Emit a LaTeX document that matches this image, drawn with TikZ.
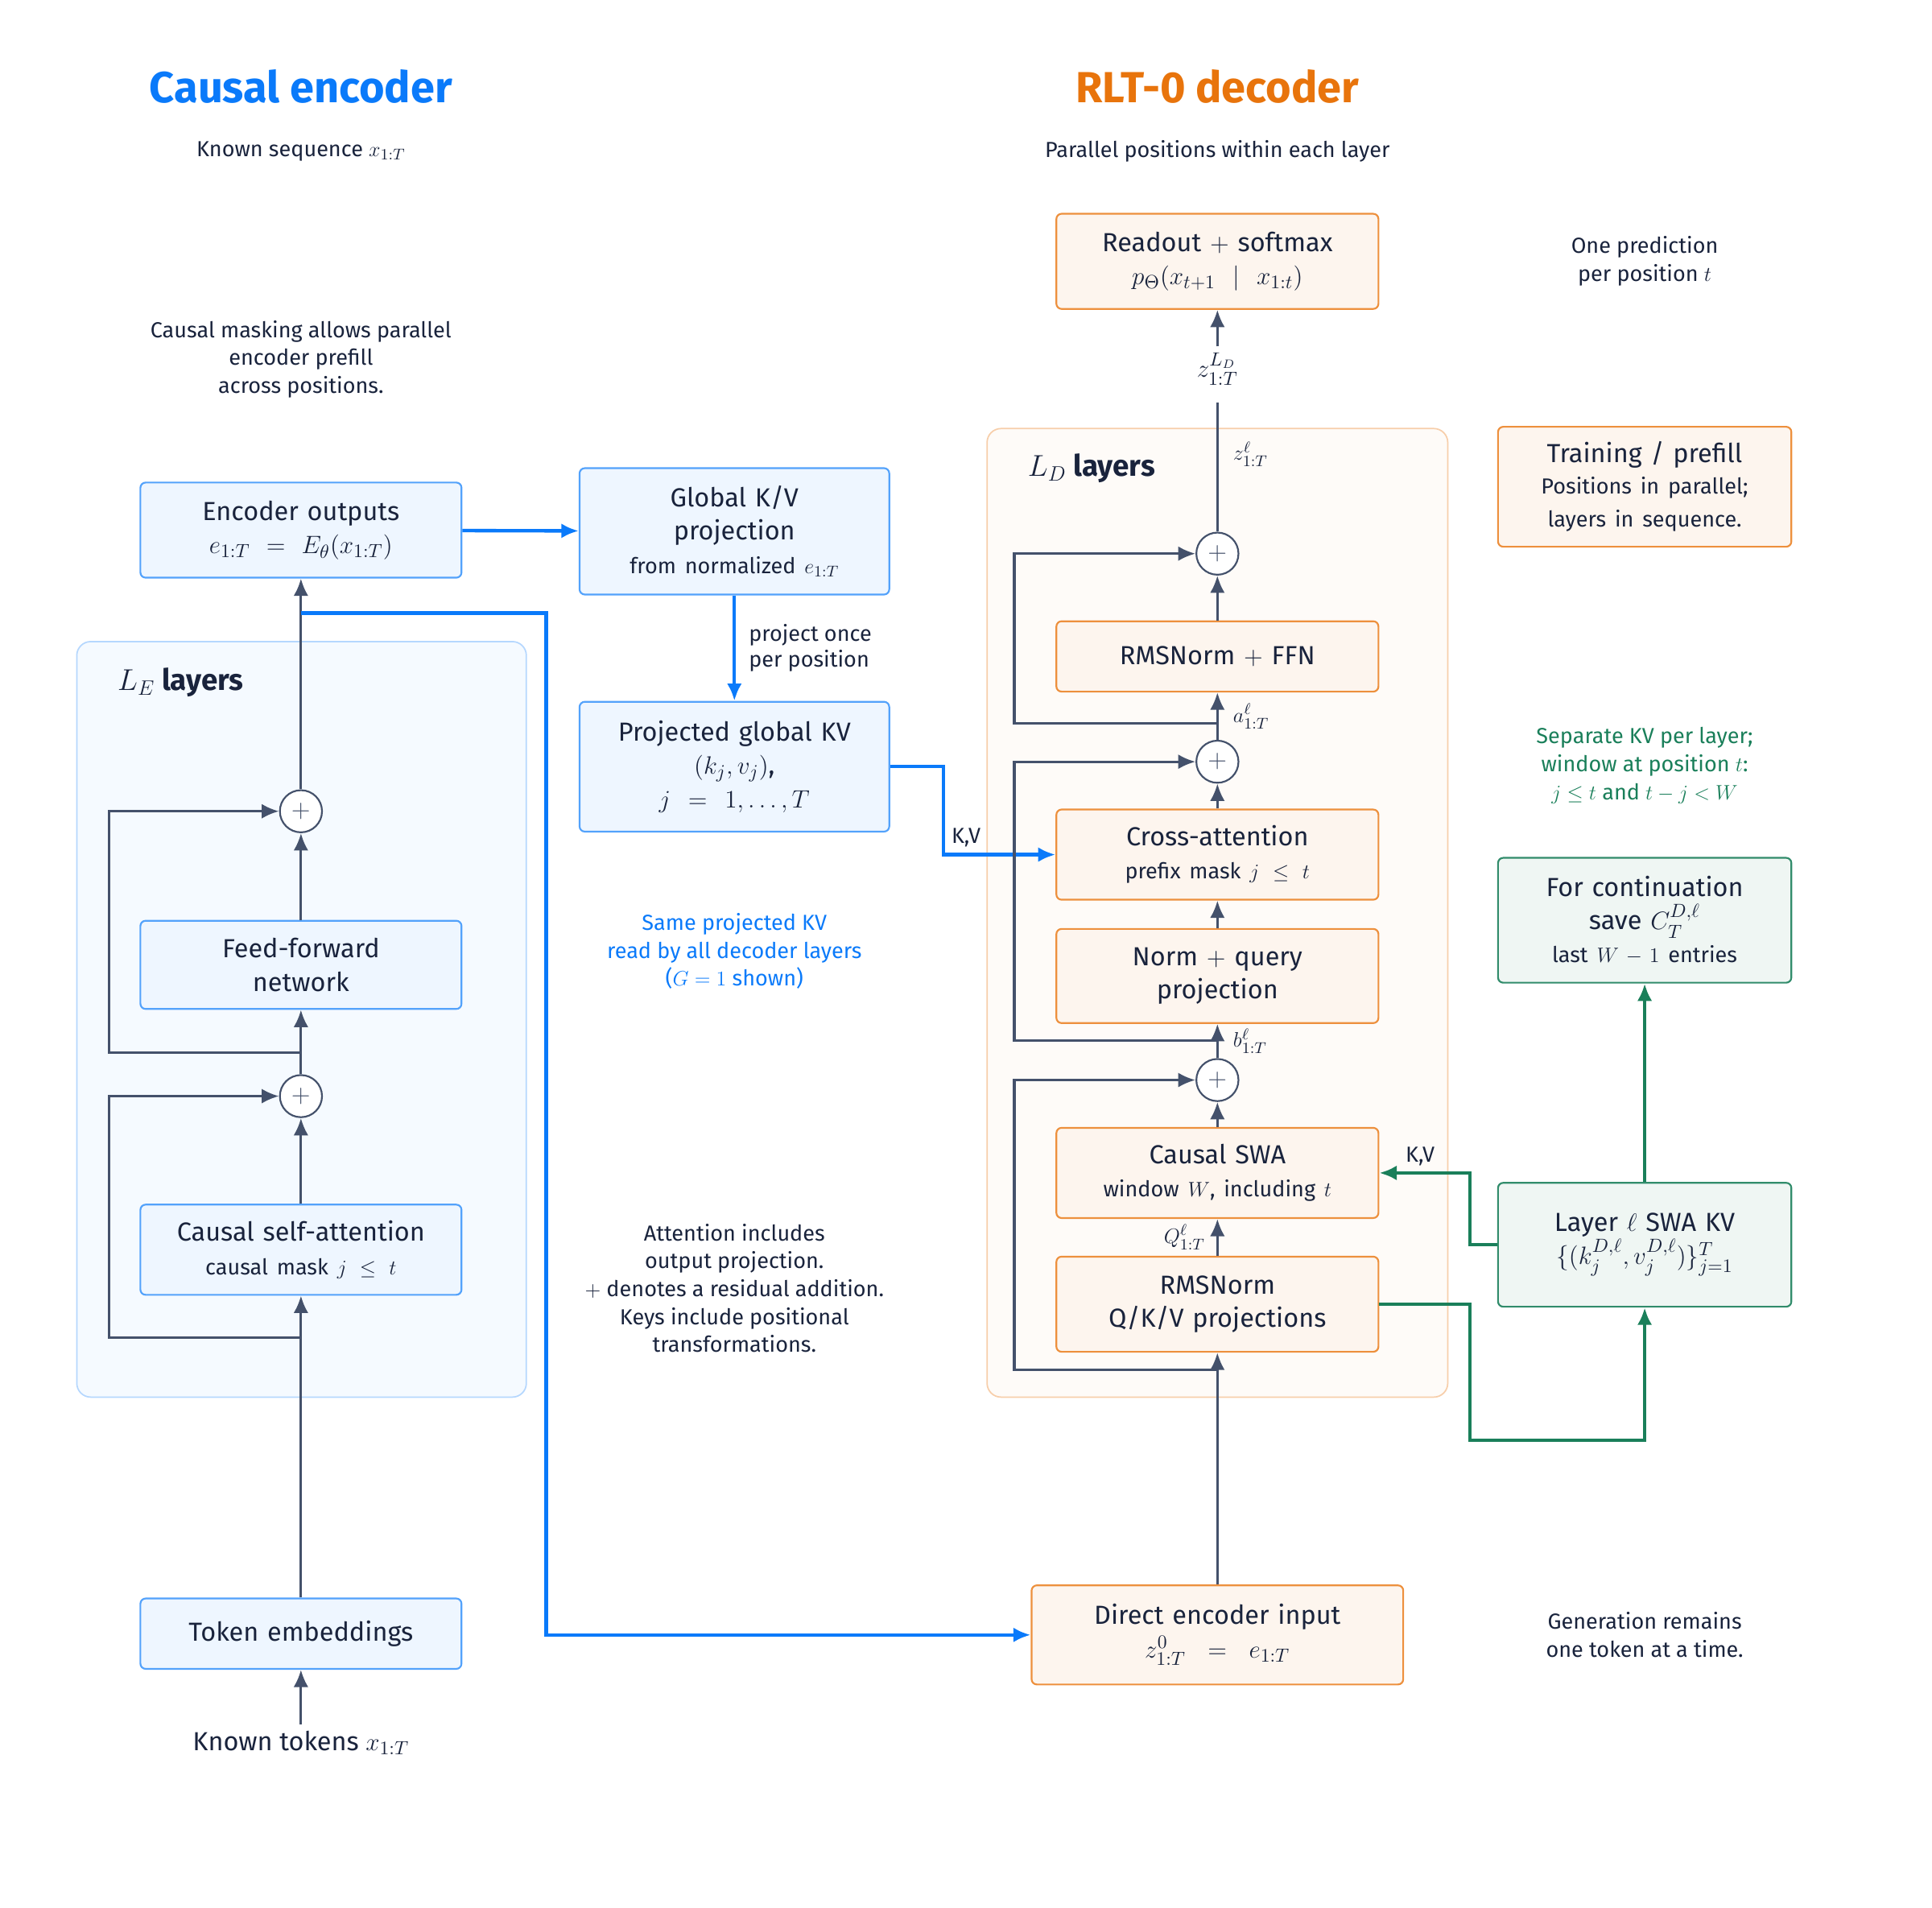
\documentclass[tikz,border=0pt]{standalone}
\usepackage{fontspec}
\setmainfont{Fira Sans}
\usepackage{amsmath}
\usetikzlibrary{arrows.meta,positioning}
\definecolor{encblue}{RGB}{10,122,250}
\definecolor{decorange}{RGB}{232,116,12}
\definecolor{kvgreen}{RGB}{26,127,90}
\definecolor{ink}{RGB}{68,81,107}
\definecolor{txt}{RGB}{25,35,60}
\tikzstyle{encbox} = [rectangle, draw=encblue!70, fill=encblue!7, rounded corners=3pt,
    line width=1pt, text=txt, align=center, font=\fontsize{15}{19}\selectfont, inner sep=0pt]
\tikzstyle{decbox} = [encbox, draw=decorange!80, fill=decorange!7]
\tikzstyle{kvbox} = [encbox, draw=kvgreen!90, fill=kvgreen!7]
\tikzstyle{panel} = [rectangle, rounded corners=8pt, line width=0.8pt]
\tikzstyle{plus} = [circle, draw=ink, fill=white, line width=1pt, minimum size=0.85cm, inner sep=0pt, font=\Large, text=ink]
\tikzstyle{line} = [draw=ink, line width=1.5pt, -{Latex[length=3.5mm,width=3mm]}]
\tikzstyle{res} = [line, rounded corners=0pt]
\tikzstyle{kvline} = [line, draw=encblue, line width=2pt]
\tikzstyle{gline} = [line, draw=kvgreen, line width=2pt]
\tikzstyle{note} = [text=txt, align=center, font=\fontsize{12.5}{16}\selectfont]
\tikzstyle{lab} = [text=txt, font=\fontsize{12.5}{15}\selectfont]

\begin{document}
\begin{tikzpicture}[x=0.025cm, y=-0.025cm]
   \useasboundingbox (0,0) rectangle (1560,1540);
   % panels
    \draw [panel, draw=encblue!30, fill=encblue!4] (62,518) rectangle (425,1128);
    \draw [panel, draw=decorange!35, fill=decorange!3] (797,346) rectangle (1169,1128);
    \node [anchor=west, text=txt, font=\fontsize{17}{20}\selectfont\bfseries] (lelab) at (90,551) {$L_E$ layers};
    \node [anchor=west, text=txt, font=\fontsize{17}{20}\selectfont\bfseries] (ldlab) at (825,378) {$L_D$ layers};
   % titles
    \node [text=encblue, font=\fontsize{25}{30}\selectfont\bfseries] (enctitle) at (243,70) {Causal encoder};
    \node [text=decorange, font=\fontsize{25}{30}\selectfont\bfseries] (dectitle) at (983,70) {RLT-0 decoder};
    \node [note] (encsub) at (243,122) {Known sequence $x_{1:T}$};
    \node [note] (decsub) at (983,122) {Parallel positions within each layer};
    \node [note] (prefill) at (243,290) {Causal masking allows parallel\\encoder prefill\\across positions.};
   % encoder nodes
    \node [encbox, text width=6.48cm, minimum height=1.92cm] (encout) at (243,428) {Encoder outputs\\$e_{1:T} = E_\theta(x_{1:T})$};
    \node [encbox, text width=6.25cm, minimum height=2.55cm] (gkv) at (593,429) {Global K/V\\projection\\{\fontsize{12.5}{15}\selectfont from normalized $e_{1:T}$}};
    \node [encbox, text width=6.25cm, minimum height=2.62cm] (pkv) at (593,619) {Projected global KV\\$(k_j, v_j)$,\\$j = 1, \ldots, T$};
    \node [plus] (eplusa) at (243,655) {$+$};
    \node [encbox, text width=6.48cm, minimum height=1.78cm] (ffn) at (243,779) {Feed-forward\\network};
    \node [plus] (eplusb) at (243,885) {$+$};
    \node [encbox, text width=6.48cm, minimum height=1.82cm] (csa) at (243,1009) {Causal self-attention\\{\fontsize{12.5}{15}\selectfont causal mask $j \le t$}};
    \node [encbox, text width=6.48cm, minimum height=1.42cm] (tok) at (243,1319) {Token embeddings};
    \node [text=txt, font=\fontsize{15}{18}\selectfont] (known) at (243,1407) {Known tokens $x_{1:T}$};
    \node [note, text=encblue] (same) at (593,768) {Same projected KV\\read by all decoder layers\\($G = 1$ shown)};
    \node [note] (attnote) at (593,1040) {Attention includes\\output projection.\\$+$ denotes a residual addition.\\Keys include positional\\transformations.};
   % decoder nodes
    \node [decbox, text width=6.5cm, minimum height=1.92cm] (readout) at (983,211) {Readout $+$ softmax\\$p_\Theta(x_{t+1} \mid x_{1:t})$};
    \node [plus] (dplusa) at (983,447) {$+$};
    \node [decbox, text width=6.5cm, minimum height=1.42cm] (dffn) at (983,530) {RMSNorm $+$ FFN};
    \node [plus] (dplusb) at (983,615) {$+$};
    \node [decbox, text width=6.5cm, minimum height=1.82cm] (cross) at (983,690) {Cross-attention\\{\fontsize{12.5}{15}\selectfont prefix mask $j \le t$}};
    \node [decbox, text width=6.5cm, minimum height=1.9cm] (query) at (983,788) {Norm $+$ query\\projection};
    \node [plus] (dplusc) at (983,872) {$+$};
    \node [decbox, text width=6.5cm, minimum height=1.82cm] (swa) at (983,947) {Causal SWA\\{\fontsize{12.5}{15}\selectfont window $W$, including $t$}};
    \node [decbox, text width=6.5cm, minimum height=1.92cm] (qkv) at (983,1053) {RMSNorm\\Q/K/V projections};
    \node [decbox, text width=7.5cm, minimum height=2cm] (direct) at (983,1320) {Direct encoder input\\$z^0_{1:T} = e_{1:T}$};
   % right column
    \node [note] (onepred) at (1328,211) {One prediction\\per position $t$};
    \node [decbox, text width=5.92cm, minimum height=2.42cm] (train) at (1328,393) {Training / prefill\\{\fontsize{12.5}{18}\selectfont Positions in parallel;\\layers in sequence.}};
    \node [note, text=kvgreen] (sepkv) at (1328,618) {Separate KV per layer;\\window at position $t$:\\$j \le t$ and $t - j < W$};
    \node [kvbox, text width=5.92cm, minimum height=2.52cm] (cont) at (1328,743) {For continuation\\save $C_T^{D,\ell}$\\{\fontsize{12.5}{15}\selectfont last $W - 1$ entries}};
    \node [kvbox, text width=5.92cm, minimum height=2.5cm] (swakv) at (1328,1005) {Layer $\ell$ SWA KV\\$\{(k_j^{D,\ell}, v_j^{D,\ell})\}_{j=1}^T$};
    \node [note] (gen) at (1328,1320) {Generation remains\\one token at a time.};
   % encoder edges
    \path [line] (known) -- (tok);
    \path [line] (tok) -- (csa);
    \path [res] (243,1080) -- (88,1080) -- (88,885) -- (eplusb);
    \path [line] (csa) -- (eplusb);
    \path [line] (eplusb) -- (ffn);
    \path [res] (243,850) -- (88,850) -- (88,655) -- (eplusa);
    \path [line] (ffn) -- (eplusa);
    \path [line] (eplusa) -- (encout);
    \coordinate (tap) at (243,495);
    \path [kvline] (encout) -- (gkv);
    \path [kvline] (gkv) -- node [lab, right, align=left, xshift=4pt] {project once\\per position} (pkv);
    \path [kvline] (pkv.east) -- (762,619) -- (762,690) -- node [lab, above, pos=0.2] {K,V} (cross.west);
    \path [kvline] (tap) -- (441,495) -- (441,1320) -- (direct.west);
   % decoder edges
    \path [line] (direct) -- (qkv);
    \path [res] (983,1106) -- (819,1106) -- (819,872) -- (dplusc);
    \path [line] (qkv) -- node [lab, left, xshift=-3pt] {$Q^\ell_{1:T}$} (swa);
    \path [line] (swa) -- (dplusc);
    \path [line] (dplusc) -- node [lab, right, xshift=5pt] {$b^\ell_{1:T}$} (query);
    \path [res] (983,840) -- (819,840) -- (819,615) -- (dplusb);
    \path [line] (query) -- (cross);
    \path [line] (cross) -- (dplusb);
    \path [line] (dplusb) -- node [lab, right, xshift=5pt] {$a^\ell_{1:T}$} (dffn);
    \path [res] (983,584) -- (819,584) -- (819,447) -- (dplusa);
    \path [line] (dffn) -- (dplusa);
    \draw [draw=ink, line width=1.5pt] (dplusa) -- node [lab, right, pos=0.6, xshift=5pt] {$z^\ell_{1:T}$} (983,325);
    \node [text=txt, font=\fontsize{15}{18}\selectfont] (zld) at (983,298) {$z^{L_D}_{1:T}$};
    \path [line] (zld) -- (readout);
   % green edges
    \path [gline] (qkv.east) -- (1187,1053) -- (1187,1163) -- (1328,1163) -- (swakv.south);
    \path [gline] (swakv.west) -- (1187,1005) -- (1187,947) -- node [lab, above, pos=0.55] {K,V} (swa.east);
    \path [gline] (swakv) -- (cont);
\end{tikzpicture}
\end{document}
